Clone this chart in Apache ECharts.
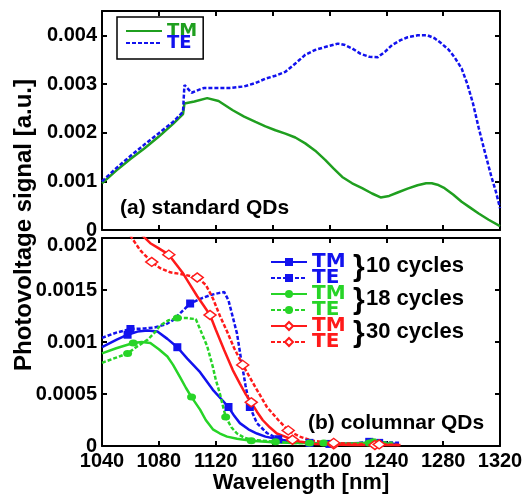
<!DOCTYPE html>
<html>
<head>
<meta charset="utf-8">
<script src="https://cdn.jsdelivr.net/npm/echarts@6/dist/echarts.min.js"></script>
<style>
  html, body { margin: 0; padding: 0; background: #fff; }
  #chart { width: 529px; height: 501px; }
</style>
</head>
<body>
<div id="chart"></div>
<script>
// x axis (wavelength, nm)
const xTicks = [1040, 1080, 1120, 1160, 1200, 1240, 1280, 1320]

// y ticks of the two panels
const yTicksTop = [0, 0.001, 0.002, 0.003, 0.004]
const yLabelsTop = ['0', '0.001', '0.002', '0.003', '0.004']
const yTicksBottom = [0, 0.0005, 0.001, 0.0015, 0.002]
const yLabelsBottom = ['0', '0.0005', '0.001', '0.0015', '0.002']

// (a) standard QDs: [wavelength, signal]
const topTM = [[1040,0.96e-3],[1050,1.22e-3],[1060,1.46e-3],[1070,1.68e-3],[1080,1.92e-3],[1090,2.18e-3],[1097,2.38e-3],[1098,2.60e-3],[1105,2.64e-3],[1114,2.71e-3],[1122,2.65e-3],[1132,2.46e-3],[1140,2.33e-3],[1148,2.22e-3],[1155,2.13e-3],[1162,2.05e-3],[1169,1.98e-3],[1176,1.90e-3],[1183,1.78e-3],[1190,1.63e-3],[1197,1.44e-3],[1203,1.26e-3],[1209,1.09e-3],[1216,0.96e-3],[1223,0.86e-3],[1230,0.75e-3],[1236,0.67e-3],[1242,0.70e-3],[1248,0.77e-3],[1255,0.85e-3],[1262,0.92e-3],[1268,0.96e-3],[1272,0.96e-3],[1276,0.93e-3],[1281,0.86e-3],[1287,0.73e-3],[1293,0.58e-3],[1299,0.46e-3],[1305,0.34e-3],[1312,0.21e-3],[1320,0.08e-3]]
const topTE = [[1040,1.00e-3],[1050,1.27e-3],[1060,1.52e-3],[1070,1.76e-3],[1080,1.99e-3],[1090,2.22e-3],[1097,2.43e-3],[1098,2.98e-3],[1103,2.82e-3],[1108,2.88e-3],[1112,2.92e-3],[1120,2.92e-3],[1130,2.92e-3],[1140,2.95e-3],[1148,3.02e-3],[1155,3.11e-3],[1162,3.17e-3],[1169,3.25e-3],[1176,3.42e-3],[1183,3.60e-3],[1190,3.70e-3],[1197,3.76e-3],[1206,3.83e-3],[1211,3.80e-3],[1216,3.73e-3],[1222,3.62e-3],[1228,3.56e-3],[1234,3.55e-3],[1239,3.66e-3],[1244,3.80e-3],[1250,3.90e-3],[1255,3.96e-3],[1262,4.00e-3],[1269,4.00e-3],[1274,3.94e-3],[1279,3.83e-3],[1284,3.70e-3],[1288,3.55e-3],[1293,3.32e-3],[1297,3.00e-3],[1301,2.60e-3],[1305,2.10e-3],[1309,1.64e-3],[1314,1.09e-3],[1317,0.80e-3],[1320,0.45e-3]]

// (b) columnar QDs
const tm10 = [[1040,0.95e-3],[1050,1.02e-3],[1058,1.07e-3],[1065,1.10e-3],[1072,1.11e-3],[1079,1.10e-3],[1086,1.03e-3],[1093,0.95e-3],[1100,0.84e-3],[1109,0.71e-3],[1118,0.54e-3],[1129,0.375e-3],[1133,0.29e-3],[1137,0.22e-3],[1143,0.16e-3],[1149,0.12e-3],[1155,0.09e-3],[1164,0.065e-3],[1172,0.045e-3],[1185,0.03e-3],[1200,0.02e-3],[1212,0.025e-3],[1222,0.03e-3],[1235,0.03e-3],[1248,0.02e-3]]
const te10 = [[1040,1.04e-3],[1050,1.09e-3],[1060,1.125e-3],[1070,1.13e-3],[1077,1.14e-3],[1085,1.17e-3],[1090,1.21e-3],[1096,1.29e-3],[1102,1.37e-3],[1110,1.42e-3],[1116,1.45e-3],[1122,1.47e-3],[1126,1.48e-3],[1129,1.40e-3],[1132,1.24e-3],[1135,1.08e-3],[1138,0.82e-3],[1141,0.58e-3],[1144,0.375e-3],[1149,0.22e-3],[1156,0.125e-3],[1165,0.06e-3],[1175,0.04e-3],[1186,0.03e-3],[1200,0.025e-3],[1215,0.02e-3],[1228,0.04e-3],[1240,0.035e-3],[1250,0.03e-3]]
const tm18 = [[1040,0.89e-3],[1050,0.94e-3],[1062,0.99e-3],[1068,1.00e-3],[1074,0.99e-3],[1080,0.93e-3],[1086,0.86e-3],[1090,0.78e-3],[1095,0.66e-3],[1099,0.56e-3],[1103,0.47e-3],[1109,0.35e-3],[1113,0.25e-3],[1118,0.16e-3],[1123,0.12e-3],[1128,0.09e-3],[1135,0.07e-3],[1145,0.05e-3],[1160,0.035e-3],[1175,0.03e-3],[1186,0.03e-3],[1205,0.02e-3],[1215,0.025e-3],[1228,0.03e-3],[1245,0.02e-3]]
const te18 = [[1040,0.80e-3],[1050,0.85e-3],[1058,0.89e-3],[1065,0.96e-3],[1072,1.02e-3],[1077,1.09e-3],[1081,1.16e-3],[1087,1.21e-3],[1093,1.23e-3],[1100,1.23e-3],[1106,1.22e-3],[1110,1.09e-3],[1114,0.96e-3],[1116,0.86e-3],[1118,0.76e-3],[1120,0.64e-3],[1123,0.50e-3],[1127,0.28e-3],[1131,0.18e-3],[1135,0.12e-3],[1140,0.08e-3],[1146,0.06e-3],[1162,0.04e-3],[1175,0.03e-3],[1196,0.03e-3],[1215,0.02e-3],[1231,0.04e-3],[1245,0.03e-3]]
const tm30 = [[1040,2.50e-3],[1055,2.22e-3],[1062,2.10e-3],[1068,2.03e-3],[1074,1.95e-3],[1080,1.90e-3],[1087,1.84e-3],[1092,1.75e-3],[1097,1.66e-3],[1102,1.55e-3],[1107,1.44e-3],[1111,1.36e-3],[1116,1.26e-3],[1120,1.12e-3],[1126,0.92e-3],[1132,0.73e-3],[1137,0.60e-3],[1141,0.50e-3],[1145,0.42e-3],[1149,0.33e-3],[1153,0.25e-3],[1158,0.18e-3],[1163,0.12e-3],[1167,0.10e-3],[1174,0.06e-3],[1180,0.04e-3],[1190,0.02e-3],[1203,0.015e-3],[1218,0.01e-3],[1232,0.01e-3],[1250,0.01e-3]]
const te30 = [[1040,2.60e-3],[1050,2.30e-3],[1061,2.00e-3],[1067,1.88e-3],[1075,1.77e-3],[1081,1.71e-3],[1088,1.67e-3],[1097,1.65e-3],[1107,1.62e-3],[1113,1.55e-3],[1118,1.42e-3],[1123,1.25e-3],[1128,1.10e-3],[1133,0.94e-3],[1139,0.78e-3],[1144,0.66e-3],[1149,0.54e-3],[1156,0.375e-3],[1164,0.25e-3],[1171,0.15e-3],[1179,0.09e-3],[1188,0.05e-3],[1203,0.03e-3],[1218,0.02e-3],[1235,0.015e-3],[1250,0.01e-3]]

// wavelengths that carry a marker
const marks10tm = [1058, 1093, 1129, 1164, 1200, 1235]
const marks10te = [1060, 1102, 1144, 1186, 1228]
const marks18tm = [1062, 1103, 1145, 1186, 1228]
const marks18te = [1058, 1093, 1127, 1162, 1196, 1231]
const marks30tm = [1087, 1116, 1145, 1174, 1203, 1232]
const marks30te = [1075, 1107, 1139, 1171, 1203, 1235]

const cycleLabels = ['10 cycles', '18 cycles', '30 cycles']

const GREEN_A = '#1f9f1f'
const GREEN = '#27d427'
const BLUE = '#1212ee'
const RED = '#ff1a1a'
const FONT = '"Liberation Sans", Arial, sans-serif'
const WIDE = '"DejaVu Sans", sans-serif'

const tickLabel = (ticks, labels) => v => {
  const i = ticks.findIndex(t => Math.abs(t - v) < 1e-9)
  return i < 0 ? '' : labels[i]
}

const axisBase = {
  axisLine: { onZero: false, lineStyle: { color: '#000', width: 2 } },
  axisTick: { inside: true, length: 5, lineStyle: { color: '#000', width: 2 } },
  splitLine: { show: false }
}

const xAxis = (grid, pos, labels) => ({
  ...axisBase,
  type: 'value', gridIndex: grid, position: pos,
  min: 1040, max: 1320, interval: 40,
  axisLabel: labels ? {
    margin: 5, fontSize: 20, fontWeight: 'bold', fontFamily: FONT, color: '#000',
    formatter: tickLabel(xTicks, xTicks.map(String))
  } : { show: false }
})

const yAxis = (grid, pos, max, interval, label) => ({
  ...axisBase,
  type: 'value', gridIndex: grid, position: pos,
  min: 0, max: max, interval: interval,
  axisLabel: label ? { margin: 5, fontSize: 20, fontWeight: 'bold', fontFamily: FONT, color: '#000', showMaxLabel: grid === 1, ...label } : { show: false }
})

const plain = (name, pts, color, dashed) => ({
  name, type: 'line', xAxisIndex: 0, yAxisIndex: 0,
  data: pts, symbol: 'none',
  lineStyle: { color, width: 2.5, type: dashed ? [4, 2] : 'solid' },
  itemStyle: { color }
})

const marked = (name, pts, marks, color, dashed, sym, size, hollow) => ({
  name, type: 'line', xAxisIndex: 2, yAxisIndex: 2,
  data: pts.map(p => ({ value: p, symbol: marks.includes(p[0]) ? sym : 'none' })),
  symbol: sym, symbolSize: size, showSymbol: true, showAllSymbol: true,
  lineStyle: { color, width: 2.5, type: dashed ? [4, 2] : 'solid' },
  itemStyle: hollow ? { color: '#fff', borderColor: color, borderWidth: 1.5 } : { color }
})

const chart = echarts.init(document.getElementById('chart'))

chart.setOption({
  animation: false,
  backgroundColor: '#fff',
  grid: [
    { left: 102, right: 29, top: 11, height: 219 },
    { left: 102, right: 29, top: 238, height: 208 }
  ],
  xAxis: [
    xAxis(0, 'bottom', false),
    xAxis(0, 'top', false),
    {
      ...xAxis(1, 'bottom', true),
      name: 'Wavelength [nm]', nameLocation: 'middle', nameGap: 21,
      nameTextStyle: { fontSize: 22, fontWeight: 'bold', fontFamily: FONT, color: '#000' }
    },
    xAxis(1, 'top', false)
  ],
  yAxis: [
    yAxis(0, 'left', 0.0045, 0.001, { formatter: tickLabel(yTicksTop, yLabelsTop) }),
    yAxis(0, 'right', 0.0045, 0.001, null),
    yAxis(1, 'left', 0.002, 0.0005, {
      formatter: v => {
        const s = tickLabel(yTicksBottom, yLabelsBottom)(v)
        return Math.abs(v - 0.002) < 1e-9 ? '{t|' + s + '}' : s
      },
      rich: { t: { fontSize: 20, fontWeight: 'bold', fontFamily: FONT, color: '#000', padding: [14, 0, 0, 0] } }
    }),
    yAxis(1, 'right', 0.002, 0.0005, null)
  ],
  legend: [
    {
      orient: 'vertical', left: 117, top: 17,
      padding: [5, 6, 7, 8], itemGap: -6, itemWidth: 36, itemHeight: 10,
      borderColor: '#000', borderWidth: 1.5, backgroundColor: '#fff',
      itemStyle: { color: 'transparent', borderWidth: 0 },
      formatter: n => n.split(' ')[0],
      textStyle: { fontSize: 18, fontWeight: 'bold', fontFamily: WIDE },
      data: [
        { name: 'TM a', textStyle: { color: GREEN_A } },
        { name: 'TE a', textStyle: { color: BLUE } }
      ]
    },
    {
      orient: 'vertical', left: 270, top: 252,
      padding: 0, itemGap: -4, itemWidth: 36, itemHeight: 10,
      formatter: n => n.split(' ')[0],
      textStyle: { fontSize: 20, fontWeight: 'bold', fontFamily: WIDE },
      data: [
        { name: 'TM 10', textStyle: { color: BLUE } },
        { name: 'TE 10', textStyle: { color: BLUE } },
        { name: 'TM 18', textStyle: { color: GREEN } },
        { name: 'TE 18', textStyle: { color: GREEN } },
        { name: 'TM 30', textStyle: { color: RED } },
        { name: 'TE 30', textStyle: { color: RED } }
      ]
    }
  ],
  graphic: [
    {
      type: 'text', x: 24, y: 225, rotation: Math.PI / 2,
      style: { text: 'Photovoltage signal [a.u.]', font: 'bold 24px ' + FONT, fill: '#000',
        align: 'center', verticalAlign: 'middle', textAlign: 'center', textVerticalAlign: 'middle' }
    },
    {
      type: 'text', x: 120, y: 208,
      style: { text: '(a) standard QDs', font: 'bold 21px ' + FONT, fill: '#000',
        verticalAlign: 'middle', textVerticalAlign: 'middle' }
    },
    {
      type: 'text', x: 308, y: 423,
      style: { text: '(b) columnar QDs', font: 'bold 21px ' + FONT, fill: '#000',
        verticalAlign: 'middle', textVerticalAlign: 'middle' }
    },
    ...cycleLabels.flatMap((t, i) => [
      {
        type: 'text', x: 353, y: 268 + i * 33,
        style: { text: '}', font: 'bold 30px ' + FONT, fill: '#000', verticalAlign: 'middle', textVerticalAlign: 'middle' }
      },
      {
        type: 'text', x: 366, y: 266 + i * 33,
        style: { text: t, font: 'bold 22px ' + FONT, fill: '#000', verticalAlign: 'middle', textVerticalAlign: 'middle' }
      }
    ])
  ],
  series: [
    plain('TM a', topTM, GREEN_A, false),
    plain('TE a', topTE, BLUE, true),
    marked('TM 10', tm10, marks10tm, BLUE, false, 'rect', 8, false),
    marked('TE 10', te10, marks10te, BLUE, true, 'rect', 8, false),
    marked('TM 18', tm18, marks18tm, GREEN, false, 'circle', [9, 7], false),
    marked('TE 18', te18, marks18te, GREEN, true, 'circle', [9, 7], false),
    marked('TM 30', tm30, marks30tm, RED, false, 'diamond', [12, 9], true),
    marked('TE 30', te30, marks30te, RED, true, 'diamond', [12, 9], true)
  ]
})
</script>
</body>
</html>
